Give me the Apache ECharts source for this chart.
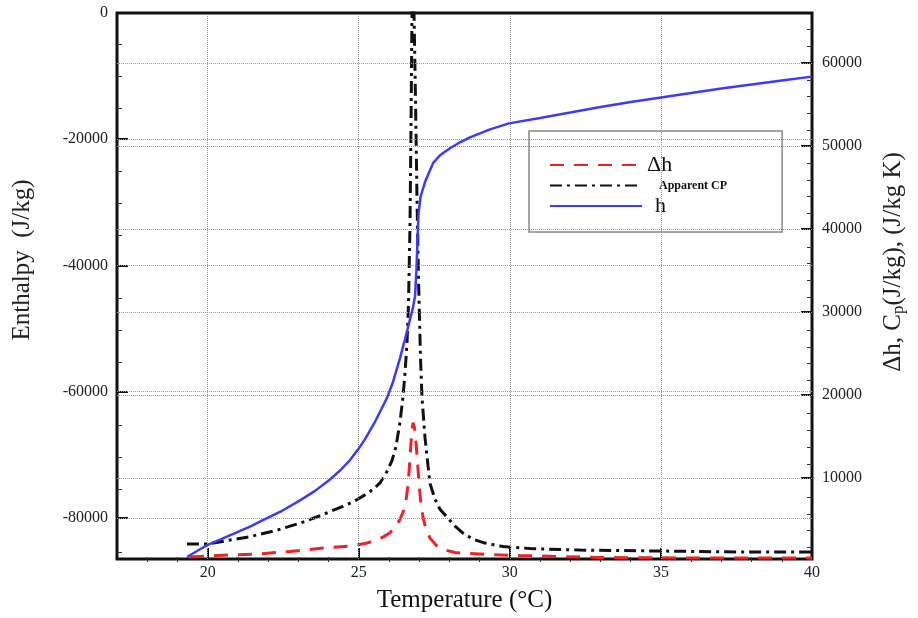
<!DOCTYPE html>
<html>
<head>
<meta charset="utf-8">
<script src="https://cdn.jsdelivr.net/npm/echarts@6/dist/echarts.min.js"></script>
<style>
html,body{margin:0;padding:0;background:#fff;}
#chart{width:918px;height:618px;}
</style>
</head>
<body>
<div id="chart"></div>
<script>
// ---------- data ----------
// h : enthalpy (left axis, J/kg)
const hTemps  = [19.317, 19.648, 19.978, 20.409, 20.905, 21.401, 21.898, 22.494, 23.056, 23.553, 24.049, 24.380, 24.711, 24.976, 25.208, 25.538, 25.935, 26.134, 26.366, 26.531, 26.697, 26.796, 26.862, 26.912, 26.945, 26.978, 27.044, 27.193, 27.458, 27.689, 28.020, 28.351, 28.682, 29.344, 29.973, 31, 32, 33, 34, 35, 36, 37, 38, 39, 40];
const hValues = [-86185, -85240, -84295, -83428, -82404, -81380, -80198, -78780, -77204, -75708, -73896, -72478, -70823, -69169, -67514, -64757, -60976, -58455, -54673, -51680, -48528, -46638, -44905, -40493, -35766, -31827, -29149, -26785, -23792, -22531, -21428, -20483, -19695, -18435, -17489, -16620, -15760, -14890, -14100, -13390, -12690, -11970, -11340, -10710, -10080];

// Apparent CP (right axis, J/kg K)
const cpTemps  = [19.317, 19.978, 20.740, 21.401, 22.295, 23.056, 23.718, 24.479, 24.876, 25.207, 25.472, 25.704, 25.935, 26.101, 26.233, 26.366, 26.465, 26.531, 26.597, 26.647, 26.697, 26.730, 26.763, 26.796, 26.829, 26.879, 26.928, 26.978, 27.011, 27.044, 27.094, 27.193, 27.292, 27.358, 27.524, 27.689, 27.921, 28.186, 28.450, 28.781, 29.178, 29.774, 30.668, 32.322, 34.970, 37.617, 40];
const cpValues = [2037, 2037, 2516, 2935, 3714, 4552, 5450, 6588, 7247, 7966, 8625, 9403, 10781, 12098, 13775, 16770, 19764, 22639, 26232, 31023, 40606, 52584, 66000, 78000, 66000, 55580, 43600, 34018, 29227, 24436, 19644, 14853, 11499, 9343, 7427, 6229, 5271, 4193, 3354, 2636, 2156, 1737, 1498, 1318, 1198, 1078, 1078];

// Δh (right axis, J/kg)
const dhTemps  = [19.416, 20.309, 21.633, 22.725, 23.817, 24.711, 25.207, 25.538, 25.803, 26.035, 26.233, 26.366, 26.465, 26.564, 26.630, 26.680, 26.730, 26.763, 26.796, 26.845, 26.895, 26.945, 26.994, 27.044, 27.127, 27.226, 27.358, 27.557, 27.855, 28.186, 28.682, 29.245, 30.337, 31.661, 32.984, 36.294, 40];
const dhValues = [480, 659, 839, 1138, 1558, 1797, 2097, 2456, 2875, 3414, 4193, 5031, 5870, 7307, 9104, 11499, 14254, 15811, 16650, 16051, 14254, 11859, 9463, 7427, 5271, 3833, 2755, 1917, 1318, 1019, 899, 779, 659, 539, 420, 360, 360];

// axis ticks
const xTicks = [20, 25, 30, 35, 40];
const xMinorTicks = [18, 19, 21, 22, 23, 24, 26, 27, 28, 29, 31, 32, 33, 34, 36, 37, 38, 39];
const leftTicks = [0, -20000, -40000, -60000, -80000];
const leftMinorTicks = [-5000, -10000, -15000, -25000, -30000, -35000, -45000, -50000, -55000, -65000, -70000, -75000, -85000];
const rightTicks = [10000, 20000, 30000, 40000, 50000, 60000];
const rightMinorTicks = [2000, 4000, 6000, 8000, 12000, 14000, 16000, 18000, 22000, 24000, 26000, 28000, 32000, 34000, 36000, 38000, 42000, 44000, 46000, 48000, 52000, 54000, 56000, 58000, 62000, 64000];
const xGrid = [20, 25, 30, 35];
const leftGrid = [-20000, -40000, -60000, -80000];
const rightGrid = [10000, 20000, 30000, 40000, 50000, 60000];

const X_MIN = 17, X_MAX = 40;
const L_MIN = -86500, L_MAX = 0;
const R_MIN = 240, R_MAX = 66000;

// ---------- chart ----------
const zip = (a, b) => a.map((v, i) => [v, b[i]]);
const FONT = 'Liberation Serif';
const gridLineStyle = {type: 'dotted', color: '#9a9a9a', width: 1};
const plain = v => String(v);

const chart = echarts.init(document.getElementById('chart'), null, {renderer: 'canvas'});

const tickLabel = {fontFamily: FONT, fontSize: 16, color: '#222', formatter: plain};
const rect = {left: 117, right: 106, top: 13, bottom: 56};

const option = {
  animation: false,
  backgroundColor: '#fff',
  grid: [
    Object.assign({show: true, borderColor: '#111', borderWidth: 3, backgroundColor: 'transparent'}, rect),
    Object.assign({show: false}, rect)
  ],
  legend: {
    orient: 'vertical', left: 529, top: 131,
    padding: [23, 55, 15, 20],
    itemWidth: 92, itemHeight: 14, itemGap: 3.5, itemTextGap: 5,
    borderColor: '#888', borderWidth: 1.5, backgroundColor: '#fff',
    itemStyle: {opacity: 0},
    textStyle: {fontFamily: FONT, color: '#111'},
    data: [
      {name: 'Δh', textStyle: {fontSize: 22, fontFamily: FONT, padding: [0, 0, 0, 0]}},
      {name: 'Apparent CP', textStyle: {fontSize: 12, fontWeight: 'bold', fontFamily: FONT, padding: [0, 0, 0, 12]}},
      {name: 'h', textStyle: {fontSize: 22, fontFamily: FONT, padding: [0, 0, 0, 8]}}
    ]
  },
  xAxis: [
    {
      type: 'value', gridIndex: 0, min: X_MIN, max: X_MAX, position: 'bottom',
      axisLine: {show: false, onZero: false},
      axisTick: {show: true, inside: true, length: 11, lineStyle: {color: '#111', width: 2}, customValues: xTicks},
      axisLabel: {show: true, margin: 6, customValues: xTicks, ...tickLabel},
      splitLine: {show: false},
      name: 'Temperature (°C)', nameLocation: 'middle', nameGap: 29,
      nameTextStyle: {fontFamily: FONT, fontSize: 25, color: '#111'}
    },
    {
      type: 'value', gridIndex: 1, min: X_MIN, max: X_MAX, position: 'bottom',
      axisLine: {show: false, onZero: false},
      axisTick: {show: true, inside: true, length: 5, lineStyle: {color: '#333', width: 1}, customValues: xMinorTicks},
      axisLabel: {show: false},
      splitLine: {show: false}
    }
  ],
  yAxis: [
    {
      type: 'value', gridIndex: 0, min: L_MIN, max: L_MAX, position: 'left',
      axisLine: {show: false, onZero: false},
      axisTick: {show: true, inside: true, length: 11, lineStyle: {color: '#111', width: 2}, customValues: leftTicks},
      axisLabel: {show: true, margin: 9, customValues: leftTicks, ...tickLabel},
      splitLine: {show: false}
    },
    {
      type: 'value', gridIndex: 0, min: R_MIN, max: R_MAX, position: 'right',
      axisLine: {show: false, onZero: false},
      axisTick: {show: true, inside: true, length: 11, lineStyle: {color: '#111', width: 2}, customValues: rightTicks},
      axisLabel: {show: true, margin: 10, customValues: rightTicks, ...tickLabel},
      splitLine: {show: false}
    },
    {
      type: 'value', gridIndex: 1, min: L_MIN, max: L_MAX, position: 'left',
      axisLine: {show: false, onZero: false},
      axisTick: {show: true, inside: true, length: 5, lineStyle: {color: '#333', width: 1}, customValues: leftMinorTicks},
      axisLabel: {show: false}, splitLine: {show: false}
    },
    {
      type: 'value', gridIndex: 1, min: R_MIN, max: R_MAX, position: 'right',
      axisLine: {show: false, onZero: false},
      axisTick: {show: true, inside: true, length: 5, lineStyle: {color: '#333', width: 1}, customValues: rightMinorTicks},
      axisLabel: {show: false}, splitLine: {show: false}
    }
  ],
  graphic: [
    {type: 'text', x: 22, y: 260, rotation: Math.PI / 2,
     style: {text: 'Enthalpy  (J/kg)', font: '25px "Liberation Serif"', fill: '#222', align: 'center', verticalAlign: 'middle'}},
    {type: 'text', x: 893, y: 262, rotation: Math.PI / 2,
     style: {text: '{a|Δh, C}{s|p}{a|(J/kg), (J/kg K)}', align: 'center', verticalAlign: 'middle', fill: '#222',
       rich: {a: {fontFamily: FONT, fontSize: 25, color: '#222'},
              s: {fontFamily: FONT, fontSize: 17, color: '#222', padding: [12, 0, 0, 0]}}}}
  ],
  series: [
    {
      name: 'Δh', type: 'line', xAxisIndex: 0, yAxisIndex: 1,
      data: zip(dhTemps, dhValues), showSymbol: false, symbol: 'none',
      lineStyle: {color: '#ee2222', width: 3, type: [14, 10]},
      itemStyle: {color: '#ee2222'}, z: 3,
      markLine: {silent: true, symbol: 'none', label: {show: false}, lineStyle: gridLineStyle,
                 data: rightGrid.map(v => ({yAxis: v}))}
    },
    {
      name: 'Apparent CP', type: 'line', xAxisIndex: 0, yAxisIndex: 1,
      data: zip(cpTemps, cpValues), showSymbol: false, symbol: 'none',
      lineStyle: {color: '#111', width: 3, type: [12, 5, 3, 5]},
      itemStyle: {color: '#111'}, z: 4
    },
    {
      name: 'h', type: 'line', xAxisIndex: 0, yAxisIndex: 0,
      data: zip(hTemps, hValues), showSymbol: false, symbol: 'none',
      lineStyle: {color: '#3b3bff', width: 2.5, type: 'solid'},
      itemStyle: {color: '#3b3bff'}, z: 5,
      markLine: {silent: true, symbol: 'none', label: {show: false}, lineStyle: gridLineStyle,
                 data: xGrid.map(v => ({xAxis: v})).concat(leftGrid.map(v => ({yAxis: v})))}
    }
  ]
};
chart.setOption(option);
</script>
</body>
</html>
